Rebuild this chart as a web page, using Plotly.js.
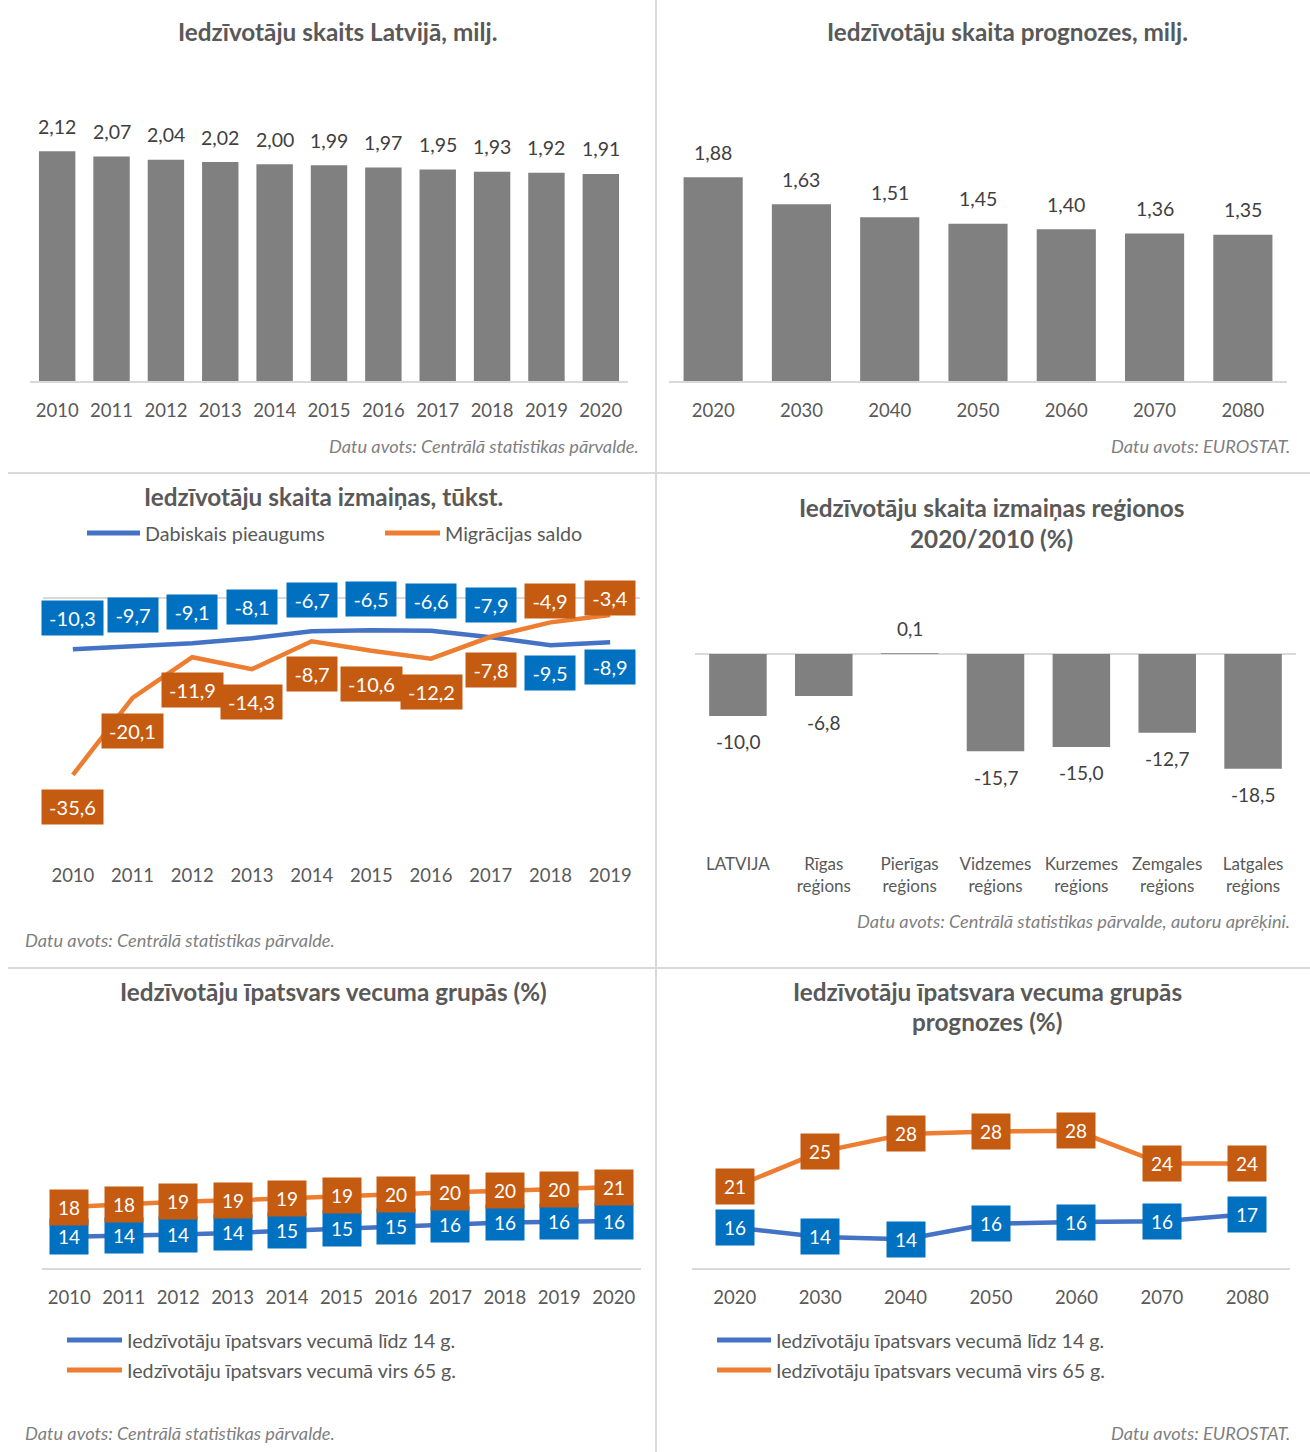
<!DOCTYPE html>
<html>
<head>
<meta charset="utf-8">
<script src="https://cdn.plot.ly/plotly-3.0.1.min.js"></script>
<style>html,body{margin:0;padding:0;background:#fff;}#chart{width:1310px;height:1452px;}</style>
</head>
<body>
<div id="chart"></div>
<script>
// ---------- DATA ----------
const years1 = ['2010','2011','2012','2013','2014','2015','2016','2017','2018','2019','2020'];
const pop1 = [2.12, 2.07, 2.04, 2.02, 2.00, 1.99, 1.97, 1.95, 1.93, 1.92, 1.91];

const years2 = ['2020','2030','2040','2050','2060','2070','2080'];
const pop2 = [1.88, 1.63, 1.51, 1.45, 1.40, 1.36, 1.35];

const years3 = ['2010','2011','2012','2013','2014','2015','2016','2017','2018','2019'];
const natural3 = [-10.3, -9.7, -9.1, -8.1, -6.7, -6.5, -6.6, -7.9, -9.5, -8.9];
const migration3 = [-35.6, -20.1, -11.9, -14.3, -8.7, -10.6, -12.2, -7.8, -4.9, -3.4];
const seriesNames3 = ['Dabiskais pieaugums', 'Migrācijas saldo'];

const regions4 = ['LATVIJA', 'Rīgas<br>reģions', 'Pierīgas<br>reģions', 'Vidzemes<br>reģions', 'Kurzemes<br>reģions', 'Zemgales<br>reģions', 'Latgales<br>reģions'];
const change4 = [-10.0, -6.8, 0.1, -15.7, -15.0, -12.7, -18.5];

const years5 = ['2010','2011','2012','2013','2014','2015','2016','2017','2018','2019','2020'];
const child5 = [13.9, 14.0, 14.2, 14.4, 14.7, 15.0, 15.3, 15.6, 15.8, 15.9, 16.0];
const elder5 = [17.9, 18.3, 18.6, 18.8, 19.1, 19.4, 19.6, 19.9, 20.1, 20.3, 20.6];

const years6 = ['2020','2030','2040','2050','2060','2070','2080'];
const child6 = [15.6, 14.4, 14.1, 16.1, 16.3, 16.4, 17.3];
const elder6 = [20.8, 25.3, 27.6, 27.9, 28.0, 23.8, 23.8];
const ageNames = ['Iedzīvotāju īpatsvars vecumā līdz 14 g.', 'Iedzīvotāju īpatsvars vecumā virs 65 g.'];

// ---------- STYLE ----------
const W = 1310, H = 1452;
const px = x => x / W, py = y => 1 - y / H;
const FONT = 'Lato, "Open Sans", sans-serif';
const GRID = '#d9d9d9';
const TXT = '#595959';
const LBL = '#404040';
const BAR = '#808080';
const BLUE = '#4472C4', ORANGE = '#ED7D31';
const BLUEBOX = '#0070C0', ORANGEBOX = '#C55A11';
const fmt = (v, d) => v.toFixed(d).replace('.', ',');
const tickfont = {family: FONT, size: 18.5, color: TXT};

const traces = [
  {type: 'bar', x: years1, y: pop1, xaxis: 'x', yaxis: 'y', marker: {color: BAR}, showlegend: false, hoverinfo: 'skip'},
  {type: 'bar', x: years2, y: pop2, xaxis: 'x2', yaxis: 'y2', marker: {color: BAR}, showlegend: false, hoverinfo: 'skip'},
  {type: 'scatter', mode: 'lines', x: years3, y: natural3, xaxis: 'x3', yaxis: 'y3', name: seriesNames3[0], line: {color: BLUE, width: 4.5}, showlegend: false},
  {type: 'scatter', mode: 'lines', x: years3, y: migration3, xaxis: 'x3', yaxis: 'y3', name: seriesNames3[1], line: {color: ORANGE, width: 4.5}, showlegend: false},
  {type: 'bar', x: regions4, y: change4, xaxis: 'x4', yaxis: 'y4', marker: {color: BAR}, showlegend: false, hoverinfo: 'skip'},
  {type: 'scatter', mode: 'lines', x: years5, y: child5, xaxis: 'x5', yaxis: 'y5', name: ageNames[0], line: {color: BLUE, width: 4.5}, showlegend: false},
  {type: 'scatter', mode: 'lines', x: years5, y: elder5, xaxis: 'x5', yaxis: 'y5', name: ageNames[1], line: {color: ORANGE, width: 4.5}, showlegend: false},
  {type: 'scatter', mode: 'lines', x: years6, y: child6, xaxis: 'x6', yaxis: 'y6', name: ageNames[0], line: {color: BLUE, width: 4.5}, showlegend: false},
  {type: 'scatter', mode: 'lines', x: years6, y: elder6, xaxis: 'x6', yaxis: 'y6', name: ageNames[1], line: {color: ORANGE, width: 4.5}, showlegend: false}
];

const ann = [];
const shapes = [];

function title(text, cx, cy) {
  ann.push({xref: 'paper', yref: 'paper', x: px(cx), y: py(cy), xanchor: 'center', yanchor: 'middle', showarrow: false,
    text: '<b>' + text + '</b>', font: {family: FONT, size: 24.3, color: TXT}});
}
function source(text, x, y, anchor) {
  ann.push({xref: 'paper', yref: 'paper', x: px(x), y: py(y), xanchor: anchor, yanchor: 'middle', showarrow: false,
    text: '<i>' + text + '</i>', font: {family: FONT, size: 18.2, color: '#7f7f7f'}});
}
function legendItem(x0, x1, y, color, text) {
  shapes.push({type: 'line', xref: 'paper', yref: 'paper', x0: px(x0), x1: px(x1), y0: py(y), y1: py(y), line: {color: color, width: 5}});
  ann.push({xref: 'paper', yref: 'paper', x: px(x1 + 3), y: py(y), xanchor: 'left', yanchor: 'middle', showarrow: false,
    text: text, font: {family: FONT, size: 19.7, color: TXT}});
}
function boxLabel(xr, yr, x, y, text, color, yshift, w, h, size) {
  ann.push({xref: xr, yref: yr, x: x, y: y, yshift: yshift, xanchor: 'center', yanchor: 'middle', showarrow: false,
    text: text, bgcolor: color, width: w, height: h, borderpad: 0, align: 'center', valign: 'middle',
    font: {family: FONT, size: size, color: '#ffffff'}});
}

// Titles
title('Iedzīvotāju skaits Latvijā, milj.', 337, 31);
title('Iedzīvotāju skaita prognozes, milj.', 1007, 31);
title('Iedzīvotāju skaita izmaiņas, tūkst.', 323, 496);
title('Iedzīvotāju skaita izmaiņas reģionos', 991, 507);
title('2020/2010 (%)', 991, 538);
title('Iedzīvotāju īpatsvars vecuma grupās (%)', 333, 991);
title('Iedzīvotāju īpatsvara vecuma grupās', 987, 991);
title('prognozes (%)', 987, 1021);

// Sources
source('Datu avots: Centrālā statistikas pārvalde.', 641, 446, 'right');
source('Datu avots: EUROSTAT.', 1292, 446, 'right');
source('Datu avots: Centrālā statistikas pārvalde.', 23, 940, 'left');
source('Datu avots: Centrālā statistikas pārvalde, autoru aprēķini.', 1292, 921, 'right');
source('Datu avots: Centrālā statistikas pārvalde.', 23, 1433, 'left');
source('Datu avots: EUROSTAT.', 1292, 1433, 'right');

// Legends
legendItem(87, 140, 533, BLUE, seriesNames3[0]);
legendItem(385, 440, 533, ORANGE, seriesNames3[1]);
legendItem(67, 122, 1340, BLUE, ageNames[0]);
legendItem(67, 122, 1370, ORANGE, ageNames[1]);
legendItem(717, 771, 1340, BLUE, ageNames[0]);
legendItem(717, 771, 1370, ORANGE, ageNames[1]);

// Separators
shapes.push({type: 'line', xref: 'paper', yref: 'paper', x0: px(656), x1: px(656), y0: 0, y1: 1, line: {color: GRID, width: 2}});
shapes.push({type: 'line', xref: 'paper', yref: 'paper', x0: px(8), x1: 1, y0: py(473), y1: py(473), line: {color: GRID, width: 2}});
shapes.push({type: 'line', xref: 'paper', yref: 'paper', x0: px(8), x1: 1, y0: py(968), y1: py(968), line: {color: GRID, width: 2}});

// Bar value labels (x given as category index)
pop1.forEach((v, i) => ann.push({xref: 'x', yref: 'y', x: i, y: v, yshift: 25, showarrow: false, yanchor: 'middle',
  text: fmt(v, 2), font: {family: FONT, size: 19.5, color: LBL}}));
pop2.forEach((v, i) => ann.push({xref: 'x2', yref: 'y2', x: i, y: v, yshift: 25, showarrow: false, yanchor: 'middle',
  text: fmt(v, 2), font: {family: FONT, size: 19.5, color: LBL}}));
change4.forEach((v, i) => ann.push({xref: 'x4', yref: 'y4', x: i, y: v, yshift: v < 0 ? -26 : 25, showarrow: false, yanchor: 'middle',
  text: fmt(v, 1), font: {family: FONT, size: 19, color: LBL}}));

// Panel 3 boxed labels
const natShift = [31, 31, 31, 31, 31, 31, 30, 32, -28, -25];
const migShift = [-32, -33, -33, -33, -33, -33, -33, -33, 21, 17];
natural3.forEach((v, i) => {
  const t = fmt(v, 1);
  boxLabel('x3', 'y3', i, v, t, BLUEBOX, natShift[i], 11 * t.length + 6, 34, 20);
});
migration3.forEach((v, i) => {
  const t = fmt(v, 1);
  boxLabel('x3', 'y3', i, v, t, ORANGEBOX, migShift[i], 11 * t.length + 6, 34, 20);
});

// Panels 5 and 6 boxed labels
child5.forEach((v, i) => boxLabel('x5', 'y5', i, v, String(Math.round(v)), BLUEBOX, 0, 38, 35, 19));
elder5.forEach((v, i) => boxLabel('x5', 'y5', i, v, String(Math.round(v)), ORANGEBOX, 0, 38, 35, 19));
child6.forEach((v, i) => boxLabel('x6', 'y6', i, v, String(Math.round(v)), BLUEBOX, 0, 38, 35, 19));
elder6.forEach((v, i) => boxLabel('x6', 'y6', i, v, String(Math.round(v)), ORANGEBOX, 0, 38, 35, 19));

function xax(x0, x1, yname, n, line, standoff) {
  return {domain: [px(x0), px(x1)], anchor: yname, type: 'category', range: [-0.5, n - 0.5], autorange: false,
    showline: line, linecolor: GRID, linewidth: 2,
    ticks: '', showgrid: false, zeroline: false, tickfont: tickfont, ticklabelstandoff: standoff, fixedrange: true};
}
function yax(ytop, ybot, xname, range, zero) {
  return {domain: [py(ybot), py(ytop)], anchor: xname, range: range, autorange: false, showgrid: false, showticklabels: false, ticks: '',
    zeroline: zero, zerolinecolor: GRID, zerolinewidth: 2, showline: false, fixedrange: true};
}

const layout = {
  width: W, height: H, margin: {l: 0, r: 0, t: 0, b: 0},
  paper_bgcolor: '#ffffff', plot_bgcolor: 'rgba(0,0,0,0)',
  showlegend: false, bargap: 0.33,
  font: {family: FONT, color: TXT},
  xaxis: xax(30, 628, 'y', years1.length, true, 12),
  yaxis: yax(110, 381, 'x', [0, 2.5], false),
  xaxis2: xax(669, 1287, 'y2', years2.length, true, 12),
  yaxis2: yax(110, 381, 'x2', [0, 2.5], false),
  xaxis3: xax(43, 640, 'y3', years3.length, false, 2),
  yaxis3: yax(573, 860, 'x3', [-52.7, 5.03], true),
  xaxis4: Object.assign(xax(695, 1296, 'y4', regions4.length, false, 12), {tickfont: {family: FONT, size: 17, color: TXT}}),
  yaxis4: yax(600, 840, 'x4', [-30, 8.7], true),
  xaxis5: xax(42, 641, 'y5', years5.length, true, 12),
  yaxis5: yax(1060, 1268, 'x5', [9.66, 37.77], false),
  xaxis6: xax(692, 1290, 'y6', years6.length, true, 12),
  yaxis6: yax(1060, 1268, 'x6', [10.41, 37.08], false),
  annotations: ann,
  shapes: shapes
};

Plotly.newPlot('chart', traces, layout, {staticPlot: true, displayModeBar: false});
</script>
</body>
</html>
